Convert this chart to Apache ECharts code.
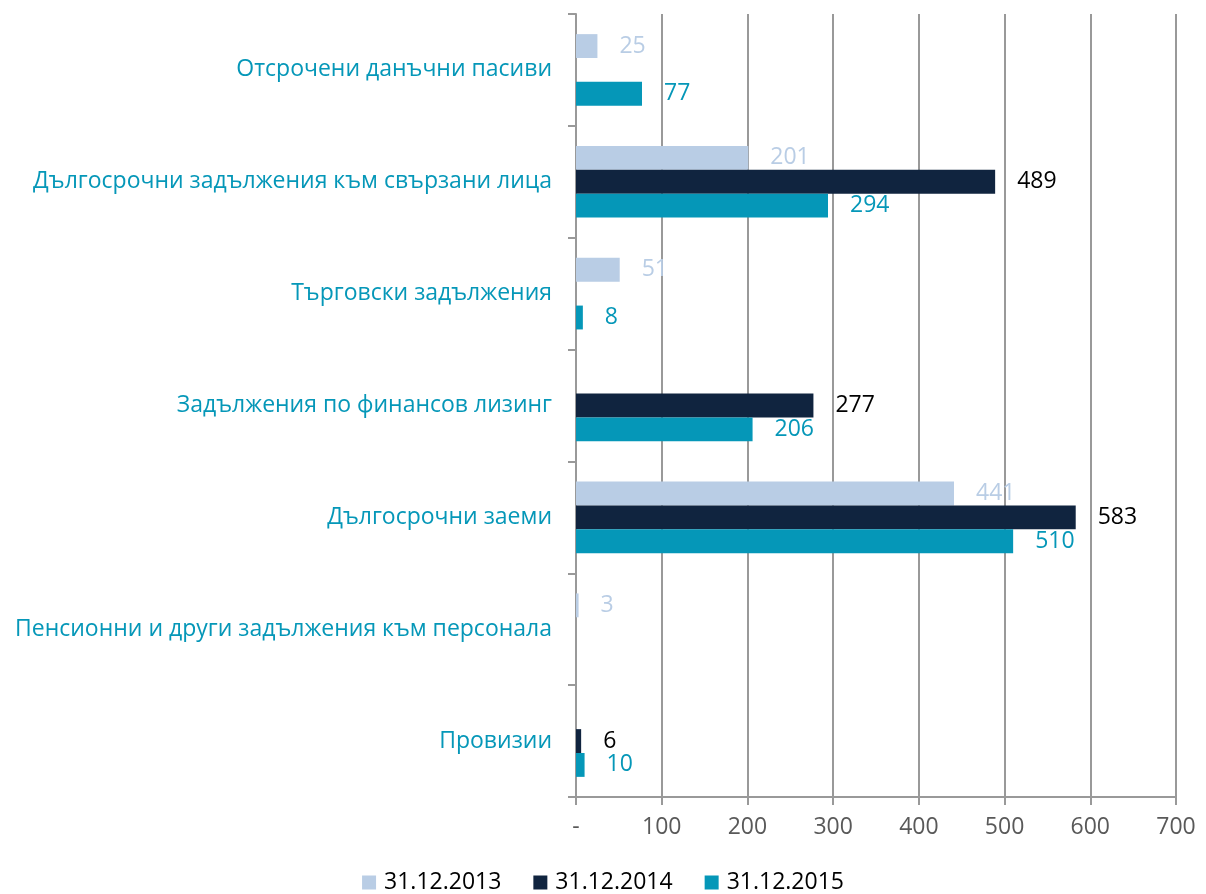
<!DOCTYPE html>
<html>
<head>
<meta charset="utf-8">
<script src="https://cdn.jsdelivr.net/npm/echarts@6/dist/echarts.min.js"></script>
<style>
  html, body { margin: 0; padding: 0; background: #fff; }
  #chart { width: 1206px; height: 894px; }
</style>
</head>
<body>
<div id="chart"></div>
<script>
// категории отгоре надолу
const categories = [
    'Отсрочени данъчни пасиви',
    'Дългосрочни задължения към свързани лица',
    'Търговски задължения',
    'Задължения по финансов лизинг',
    'Дългосрочни заеми',
    'Пенсионни и други задължения към персонала',
    'Провизии'
];
const seriesNames = ['31.12.2013', '31.12.2014', '31.12.2015'];
// '-' = няма стойност
const values2013 = [25, 201, 51, '-', 441, 3, '-'];
const values2014 = ['-', 489, '-', 277, 583, '-', 6];
const values2015 = [77, 294, 8, 206, 510, '-', 10];
const xTicks = [0, 100, 200, 300, 400, 500, 600, 700];

const font = 'Open Sans';
const fs = 23;
const barColors = ['#B9CDE5', '#10243F', '#0597B8'];
const labelColors = ['#B9CDE5', '#000000', '#0597B8'];

function makeSeries(i, data) {
    return {
        name: seriesNames[i],
        type: 'bar',
        data: data,
        barGap: '0%',
        barCategoryGap: '36%',
        itemStyle: { color: barColors[i] },
        label: {
            show: true,
            position: 'right',
            distance: 22,
            color: labelColors[i],
            fontFamily: font,
            fontSize: fs
        }
    };
}

let myChart = echarts.init(document.getElementById('chart'));
let option = {
    animation: false,
    textStyle: { fontFamily: font },
    grid: { left: 576, right: 30, top: 14, bottom: 97 },
    legend: {
        top: 866,
        left: 'center',
        itemWidth: 14,
        itemHeight: 14,
        itemGap: 32,
        icon: 'rect',
        textStyle: { fontFamily: font, fontSize: fs, color: '#000', padding: [0, 0, 0, 3] },
        data: seriesNames
    },
    xAxis: {
        type: 'value',
        min: xTicks[0],
        max: xTicks[xTicks.length - 1],
        interval: 100,
        axisLine: { show: true, lineStyle: { color: '#999', width: 2 } },
        axisTick: { show: true, length: 8, lineStyle: { color: '#999', width: 2 } },
        splitLine: { show: true, lineStyle: { color: '#999', width: 2 } },
        axisLabel: {
            color: '#595959',
            fontFamily: font,
            fontSize: fs,
            margin: 19,
            formatter: v => v === 0 ? '-' : String(v)
        }
    },
    yAxis: {
        type: 'category',
        data: categories,
        inverse: true,
        axisLine: { show: true, lineStyle: { color: '#999', width: 2 } },
        axisTick: { show: true, length: 8, lineStyle: { color: '#999', width: 2 } },
        axisLabel: {
            color: '#0597B8',
            fontFamily: font,
            fontSize: fs,
            margin: 24
        }
    },
    series: [
        makeSeries(0, values2013),
        makeSeries(1, values2014),
        makeSeries(2, values2015)
    ]
};
option && myChart.setOption(option);
</script>
</body>
</html>
